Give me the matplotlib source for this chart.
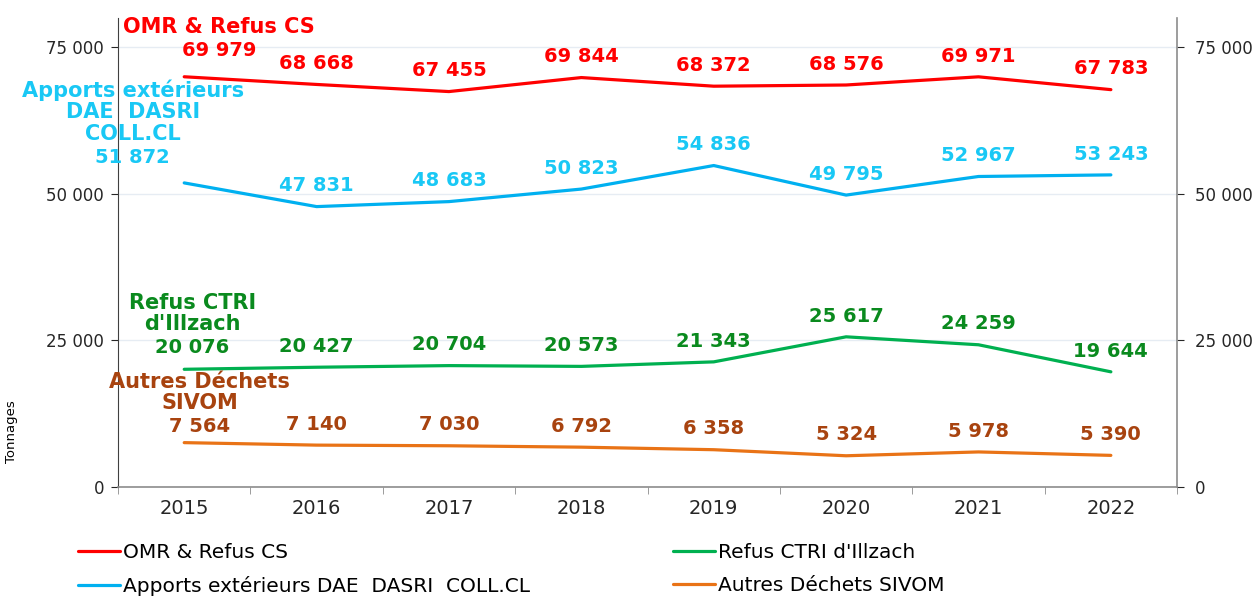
import matplotlib.pyplot as plt
from matplotlib.ticker import FuncFormatter, MultipleLocator, FixedLocator

plt.rcParams["font.family"] = ["DejaVu Sans"]

# Données (tonnages par année)
annees = ["2015", "2016", "2017", "2018", "2019", "2020", "2021", "2022"]
omr = [69979, 68668, 67455, 69844, 68372, 68576, 69971, 67783]
apports = [51872, 47831, 48683, 50823, 54836, 49795, 52967, 53243]
refus_ctri = [20076, 20427, 20704, 20573, 21343, 25617, 24259, 19644]
autres_sivom = [7564, 7140, 7030, 6792, 6358, 5324, 5978, 5390]

noms = ["OMR & Refus CS", "Apports extérieurs DAE  DASRI  COLL.CL",
        "Refus CTRI d'Illzach", "Autres Déchets SIVOM"]
noms_etiquette = ["OMR & Refus CS", "Apports extérieurs\nDAE  DASRI\nCOLL.CL",
                  "Refus CTRI\nd'Illzach", "Autres Déchets\nSIVOM"]

series = [omr, apports, refus_ctri, autres_sivom]
couleurs_ligne = ["#FF0000", "#00B0F0", "#00B050", "#E97316"]
couleurs_texte = ["#FF0000", "#19C8F5", "#0A8A1E", "#A8430F"]
# décalage (points) de l'étiquette de 2015, qui porte aussi le nom
decal_2015 = [(25, 15), (-37, 14.4), (6, 11.5), (11, 7.6)]

fig = plt.figure(figsize=(12.57, 5.97), dpi=100)
ax = fig.add_axes([0.0939, 0.1843, 0.8425, 0.7855])
x = list(range(len(annees)))

for vals, nom, lab, cl, ct, d0 in zip(series, noms, noms_etiquette,
                                      couleurs_ligne, couleurs_texte, decal_2015):
    ax.plot(x, vals, color=cl, lw=2.3, label=nom, solid_capstyle="round")
    for i, v in enumerate(vals):
        txt = f"{v:,}".replace(",", " ")
        off = d0 if i == 0 else (0, 11)
        ax.annotate(txt, (i, v), xytext=off, textcoords="offset points",
                    ha="center", va="baseline", fontsize=14,
                    fontweight="bold", color=ct)
    # nom de la série au-dessus de la première valeur
    ax.annotate(lab, (0, vals[0]), xytext=(d0[0], d0[1] + 16.5),
                textcoords="offset points", ha="center", va="baseline",
                fontsize=15, fontweight="bold", color=ct, linespacing=1.1)

fmt = FuncFormatter(lambda v, p: f"{int(v):,}".replace(",", " "))
ax.set_ylim(0, 80000)
ax.set_xlim(-0.5, len(annees) - 0.5)
ax.yaxis.set_major_locator(MultipleLocator(25000))
ax.yaxis.set_major_formatter(fmt)
ax.set_xticks(x)
ax.set_xticklabels(annees, fontsize=14, color="#262626")
ax.xaxis.set_minor_locator(FixedLocator([i - 0.5 for i in range(len(annees) + 1)]))
ax.tick_params(axis="x", which="major", length=0, pad=9)
ax.tick_params(axis="x", which="minor", length=5, color="#8C8C8C")
ax.tick_params(axis="y", labelsize=12, colors="#262626", length=5, pad=5)
ax.grid(axis="y", color="#E6ECF3", lw=1)
ax.set_axisbelow(True)

for s in ["top", "right"]:
    ax.spines[s].set_visible(False)
ax.spines["left"].set_color("#404040")
ax.spines["bottom"].set_color("#8C8C8C")
ax.spines["bottom"].set_linewidth(1.2)

ax.set_ylabel("Tonnages", fontsize=9.5)
ax.yaxis.set_label_coords(-0.094, 0.117)

# axe secondaire à droite
ax2 = ax.twinx()
ax2.set_ylim(ax.get_ylim())
ax2.yaxis.set_major_locator(MultipleLocator(25000))
ax2.yaxis.set_major_formatter(fmt)
ax2.tick_params(axis="y", labelsize=12, colors="#262626", length=5, pad=8)
for s in ["top", "left", "bottom"]:
    ax2.spines[s].set_visible(False)
ax2.spines["right"].set_color("#8C8C8C")
ax2.spines["right"].set_linewidth(1.2)

# légende en deux colonnes sous le graphique
h, l = ax.get_legend_handles_labels()
opts = dict(loc="upper left", frameon=False, fontsize=14.5, handlelength=2.1,
            handletextpad=0.15, labelspacing=0.68, borderpad=0, borderaxespad=0)
fig.legend([h[0], h[1]], [l[0], l[1]],
           bbox_to_anchor=(78 / 1257, 1 - 543 / 597), **opts)
fig.legend([h[2], h[3]], [l[2], l[3]],
           bbox_to_anchor=(673 / 1257, 1 - 543 / 597), **opts)

fig.savefig("out.png", dpi=100)
